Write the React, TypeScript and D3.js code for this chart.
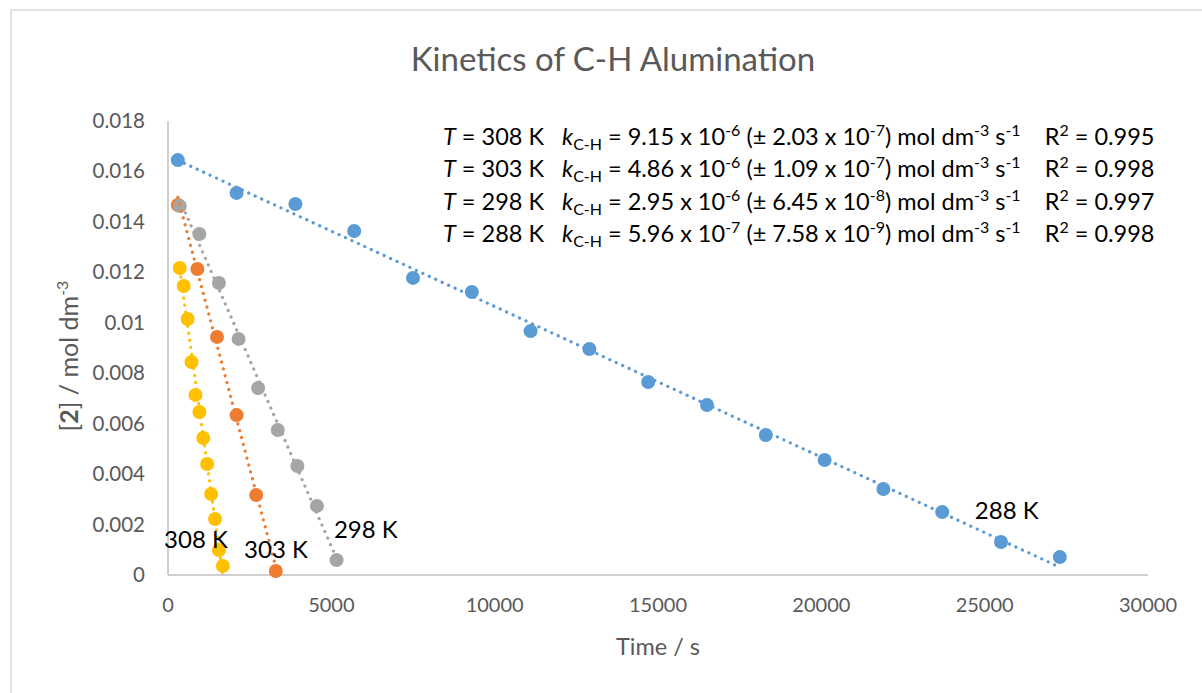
import React from "react";
import * as d3 from "d3";

// time (s) and [2] (mol dm-3) for each temperature
const t288 = [300, 2100, 3900, 5700, 7500, 9300, 11100, 12900, 14700, 16500, 18300, 20100, 21900, 23700, 25500, 27300];
const c288 = [0.01645, 0.01515, 0.01471, 0.01364, 0.01178, 0.01122, 0.00967, 0.00896, 0.00765, 0.00674, 0.00555, 0.00456, 0.00341, 0.0025, 0.00131, 0.00071];

const t298 = [360, 960, 1560, 2160, 2760, 3360, 3960, 4560, 5160];
const c298 = [0.01463, 0.01352, 0.01158, 0.00936, 0.00741, 0.00575, 0.00432, 0.00274, 0.00059];

const t303 = [300, 900, 1500, 2100, 2700, 3300];
const c303 = [0.01467, 0.01213, 0.00944, 0.00634, 0.00317, 0.00016];

const t308 = [360, 480, 600, 720, 840, 960, 1080, 1200, 1320, 1440, 1560, 1680];
const c308 = [0.01217, 0.01146, 0.01015, 0.00844, 0.00714, 0.00646, 0.00543, 0.0044, 0.00321, 0.00222, 0.00099, 0.00036];

const temps = ["308", "303", "298", "288"];
const kVals = ["9.15", "4.86", "2.95", "5.96"];
const kExp = ["-6", "-6", "-6", "-7"];
const errVals = ["2.03", "1.09", "6.45", "7.58"];
const errExp = ["-7", "-7", "-8", "-9"];
const r2Vals = ["0.995", "0.998", "0.997", "0.998"];

// where the series names sit (time, conc)
const labelTime = [-120, 2330, 5080, 24700];
const labelConc = [0.00107, 0.00067, 0.00147, 0.00222];

const xTicks = [0, 5000, 10000, 15000, 20000, 25000, 30000];
const yTicks = [0, 0.002, 0.004, 0.006, 0.008, 0.01, 0.012, 0.014, 0.016, 0.018];

const colors = ["#ffc000", "#ed7d31", "#a5a5a5", "#5b9bd5"];
const font = "Lato, 'Open Sans', sans-serif";

const series = [
  { t: t308, c: c308 },
  { t: t303, c: c303 },
  { t: t298, c: c298 },
  { t: t288, c: c288 },
];

function fit(t: number[], c: number[]) {
  const mx = d3.mean(t) as number;
  const my = d3.mean(c) as number;
  let sxy = 0, sxx = 0;
  t.forEach((v, i) => {
    sxy += (v - mx) * (c[i] - my);
    sxx += (v - mx) * (v - mx);
  });
  const slope = sxy / sxx;
  return { slope, icpt: my - slope * mx };
}

export default function App() {
  const W = 1202, H = 693;
  const x = d3.scaleLinear().domain([0, 30000]).range([168, 1148]);
  const y = d3.scaleLinear().domain([0, 0.018]).range([575, 121]);
  const line = d3.line<[number, number]>().x(d => x(d[0])).y(d => y(d[1]));

  return (
    <svg width={W} height={H} style={{ position: "absolute", left: 0, top: 0, background: "#fff" }}>
      <rect x={11} y={10} width={1300} height={800} fill="#fff" stroke="#d9d9d9" strokeWidth={1.5} />

      <text x={613} y={71} textAnchor="middle" fontFamily={font} fontSize={33} fill="#595959">
        Kinetics of C-H Alumination
      </text>

      {/* axes */}
      <line x1={x(0)} x2={x(0)} y1={y(0.018)} y2={y(0)} stroke="#bfbfbf" strokeWidth={1.5} />
      <line x1={x(0)} x2={x(30000)} y1={y(0)} y2={y(0)} stroke="#bfbfbf" strokeWidth={1.5} />

      {yTicks.map(v => (
        <text key={v} x={145} y={y(v) + 7} textAnchor="end" fontFamily={font} fontSize={20.5} fill="#595959">
          {String(+v.toFixed(3))}
        </text>
      ))}
      {xTicks.map(v => (
        <text key={v} x={x(v)} y={612} textAnchor="middle" fontFamily={font} fontSize={20} fill="#595959">
          {v}
        </text>
      ))}

      <text x={658} y={655} textAnchor="middle" fontFamily={font} fontSize={23.5} fill="#595959">
        Time / s
      </text>
      <text transform="translate(78,356) rotate(-90)" textAnchor="middle" fontFamily={font} fontSize={25} fill="#595959"
        style={{ whiteSpace: "pre" }}>
        [<tspan fontWeight="bold">2</tspan>] / mol dm<tspan dy={-10} fontSize={16}>-3</tspan>
      </text>

      {/* markers */}
      {series.map((s, i) => (
        <g key={i} fill={colors[i]}>
          {s.t.map((tv, j) => (
            <circle key={j} cx={x(tv)} cy={y(s.c[j])} r={7} />
          ))}
        </g>
      ))}

      {/* linear trendlines */}
      {series.map((s, i) => {
        const f = fit(s.t, s.c);
        const t0 = d3.min(s.t) as number, t1 = d3.max(s.t) as number;
        return (
          <path key={i} d={line([[t0, f.icpt + f.slope * t0], [t1, f.icpt + f.slope * t1]]) as string}
            fill="none" stroke={colors[i]} strokeWidth={3.2} strokeLinecap="round" strokeDasharray="0.1 7" />
        );
      })}

      {temps.map((tp, i) => (
        <text key={tp} x={x(labelTime[i])} y={y(labelConc[i])} fontFamily={font} fontSize={24} fill="#000">
          {tp} K
        </text>
      ))}

      {/* fit results */}
      {temps.map((tp, i) => (
        <text key={tp} x={443} y={145 + i * 32.3} fontFamily={font} fontSize={23.5} fill="#000" style={{ whiteSpace: "pre" }}>
          <tspan fontStyle="italic">T</tspan>{` = ${tp} K   `}
          <tspan fontStyle="italic">k</tspan>
          <tspan dy={5} fontSize={16}>C-H</tspan>
          <tspan dy={-5}>{` = ${kVals[i]} x 10`}</tspan>
          <tspan dy={-9} fontSize={16}>{kExp[i]}</tspan>
          <tspan dy={9}>{` (± ${errVals[i]} x 10`}</tspan>
          <tspan dy={-9} fontSize={16}>{errExp[i]}</tspan>
          <tspan dy={9}>) mol dm</tspan>
          <tspan dy={-9} fontSize={16}>-3</tspan>
          <tspan dy={9}> s</tspan>
          <tspan dy={-9} fontSize={16}>-1</tspan>
          <tspan dy={9}>{`    R`}</tspan>
          <tspan dy={-9} fontSize={16}>2</tspan>
          <tspan dy={9}>{` = ${r2Vals[i]}`}</tspan>
        </text>
      ))}
    </svg>
  );
}
